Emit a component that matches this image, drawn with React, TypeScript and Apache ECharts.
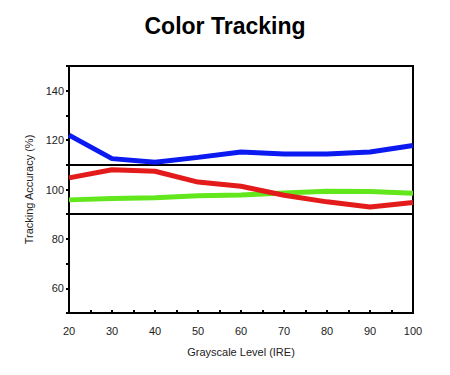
import React, { useEffect, useRef } from "react";
import * as echarts from "echarts";

const levels = [20, 30, 40, 50, 60, 70, 80, 90, 100];
const blueValues = [122, 112.5, 111, 113, 115.2, 114.4, 114.4, 115.2, 117.8];
const redValues = [104.7, 108, 107.4, 103, 101.3, 97.7, 95, 92.9, 94.7];
const greenValues = [95.8, 96.4, 96.7, 97.5, 97.8, 98.6, 99.3, 99.2, 98.5];
const referenceLines = [90, 110];
const yLabelValues = [60, 80, 100, 120, 140];

const FONT = "'Liberation Sans', Arial, sans-serif";

export default function App() {
  const ref = useRef<HTMLDivElement>(null);
  useEffect(() => {
    if (!ref.current) return;
    const chart = echarts.init(ref.current, undefined, { renderer: "svg" });
    const pair = (vals: number[]) => levels.map((l, i) => [l, vals[i]]);
    const lineSeries = (name: string, vals: number[], color: string, extra: any = {}) => ({
      name,
      type: "line",
      data: pair(vals),
      showSymbol: false,
      symbol: "none",
      lineStyle: { color, width: 5 },
      itemStyle: { color },
      z: 3,
      ...extra,
    });
    chart.setOption({
      animation: false,
      backgroundColor: "#fff",
      title: {
        text: "Color Tracking",
        left: "center",
        top: 9,
        textStyle: { fontFamily: FONT, fontSize: 23, fontWeight: "bold", color: "#000" },
      },
      grid: {
        left: 69,
        right: 37,
        top: 66,
        bottom: 62,
        containLabel: false,
        show: true,
        borderColor: "#000",
        borderWidth: 2,
        backgroundColor: "transparent",
      },
      xAxis: {
        type: "value",
        min: 20,
        max: 100,
        interval: 5,
        name: "Grayscale Level (IRE)",
        nameLocation: "middle",
        nameGap: 33,
        nameTextStyle: { fontFamily: FONT, fontSize: 11, color: "#222" },
        axisLine: { show: true, lineStyle: { color: "#000", width: 2 } },
        axisTick: { show: true, inside: true, length: 3, lineStyle: { color: "#000", width: 2 } },
        splitLine: { show: false },
        axisLabel: {
          fontFamily: FONT,
          fontSize: 11,
          color: "#222",
          margin: 12,
          formatter: (v: number) => (v % 10 === 0 ? String(v) : ""),
        },
      },
      yAxis: {
        type: "value",
        min: 50,
        max: 150,
        interval: 10,
        name: "Tracking Accuracy (%)",
        nameLocation: "middle",
        nameGap: 33,
        nameTextStyle: { fontFamily: FONT, fontSize: 11, color: "#222" },
        axisLine: { show: true, lineStyle: { color: "#000", width: 2 } },
        axisTick: { show: true, inside: false, length: 3, lineStyle: { color: "#000", width: 2 } },
        splitLine: { show: false },
        axisLabel: {
          fontFamily: FONT,
          fontSize: 11,
          color: "#222",
          margin: 5,
          formatter: (v: number) => (yLabelValues.includes(v) ? String(v) : ""),
        },
      },
      series: [
        lineSeries("Green", greenValues, "#62e61c"),
        lineSeries("Red", redValues, "#e31b1b", {
          markLine: {
            silent: true,
            symbol: "none",
            label: { show: false },
            lineStyle: { color: "#000", width: 2, type: "solid" },
            data: referenceLines.map((y) => ({ yAxis: y })),
            z: 2,
          },
        }),
        lineSeries("Blue", blueValues, "#0a1af0"),
      ],
    });
    return () => chart.dispose();
  }, []);
  return (
    <div
      ref={ref}
      style={{ position: "fixed", left: 0, top: 0, width: 450, height: 375 }}
    />
  );
}
